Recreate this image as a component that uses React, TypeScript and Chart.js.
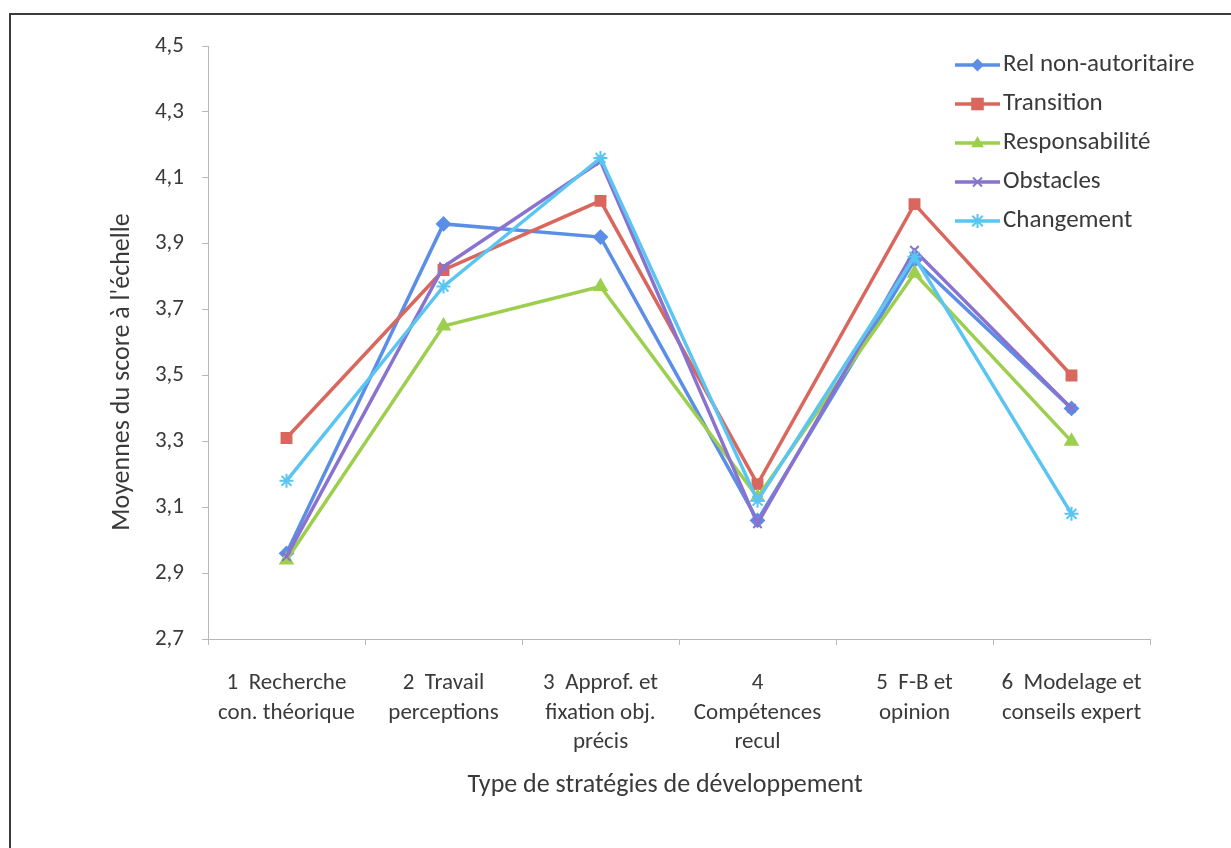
import React, { useEffect, useRef } from 'react';
import { Chart, registerables } from 'chart.js';

Chart.register(...registerables);

const categories: string[][] = [
  ['1  Recherche', 'con. théorique'],
  ['2  Travail', 'perceptions'],
  ['3  Approf. et', 'fixation obj.', 'précis'],
  ['4', 'Compétences', 'recul'],
  ['5  F-B et', 'opinion'],
  ['6  Modelage et', 'conseils expert'],
];

const seriesNames = ['Rel non-autoritaire', 'Transition', 'Responsabilité', 'Obstacles', 'Changement'];

const relNonAutoritaire = [2.96, 3.96, 3.92, 3.06, 3.85, 3.40];
const transition = [3.31, 3.82, 4.03, 3.17, 4.02, 3.50];
const responsabilite = [2.94, 3.65, 3.77, 3.13, 3.81, 3.30];
const obstacles = [2.95, 3.83, 4.15, 3.05, 3.88, 3.40];
const changement = [3.18, 3.77, 4.16, 3.12, 3.86, 3.08];

const seriesColors = ['#5B8EE6', '#D9675E', '#9DCF4E', '#8A72CF', '#5BC5F2'];
const seriesMarkers = ['rectRot', 'rect', 'triangle', 'crossRot', 'star'];
const markerRadius = [6.5, 7, 7, 6, 7];

const yTicks = [2.7, 2.9, 3.1, 3.3, 3.5, 3.7, 3.9, 4.1, 4.3, 4.5];

const yTitle = "Moyennes du score à l'échelle";
const xTitle = 'Type de stratégies de développement';

const FONT = 'Carlito, Calibri, Lato, sans-serif';
const TEXT = '#3a3a3a';

function drawMarker(ctx: CanvasRenderingContext2D, style: string, r: number, x: number, y: number, color: string) {
  ctx.save();
  ctx.fillStyle = color;
  ctx.strokeStyle = color;
  ctx.lineWidth = 2;
  ctx.beginPath();
  if (style === 'rectRot') {
    ctx.moveTo(x, y - r);
    ctx.lineTo(x + r, y);
    ctx.lineTo(x, y + r);
    ctx.lineTo(x - r, y);
    ctx.closePath();
    ctx.fill();
  } else if (style === 'rect') {
    const s = r * 0.9;
    ctx.rect(x - s, y - s, 2 * s, 2 * s);
    ctx.fill();
  } else if (style === 'triangle') {
    ctx.moveTo(x, y - r);
    ctx.lineTo(x + r * 0.9, y + r * 0.6);
    ctx.lineTo(x - r * 0.9, y + r * 0.6);
    ctx.closePath();
    ctx.fill();
  } else if (style === 'crossRot') {
    const d = r * 0.75;
    ctx.moveTo(x - d, y - d);
    ctx.lineTo(x + d, y + d);
    ctx.moveTo(x + d, y - d);
    ctx.lineTo(x - d, y + d);
    ctx.stroke();
  } else {
    const d = r * 0.75;
    ctx.moveTo(x - d, y - d);
    ctx.lineTo(x + d, y + d);
    ctx.moveTo(x + d, y - d);
    ctx.lineTo(x - d, y + d);
    ctx.moveTo(x, y - r);
    ctx.lineTo(x, y + r);
    ctx.stroke();
  }
  ctx.restore();
}

const overlayPlugin = {
  id: 'overlay',
  afterDraw(chart: any) {
    const ctx = chart.ctx as CanvasRenderingContext2D;
    // y title
    ctx.save();
    ctx.fillStyle = TEXT;
    ctx.font = `26px ${FONT}`;
    ctx.textAlign = 'center';
    ctx.textBaseline = 'middle';
    ctx.translate(122, 372);
    ctx.rotate(-Math.PI / 2);
    ctx.fillText(yTitle, 0, 0);
    ctx.restore();

    // x title
    ctx.save();
    ctx.fillStyle = TEXT;
    ctx.font = `26px ${FONT}`;
    ctx.textAlign = 'center';
    ctx.textBaseline = 'middle';
    ctx.fillText(xTitle, 665, 785);
    ctx.restore();

    // legend
    ctx.save();
    const x0 = 955;
    const x1 = 1000;
    const startY = 65;
    const gap = 39;
    chart.data.datasets.forEach((ds: any, i: number) => {
      const y = startY + i * gap;
      ctx.strokeStyle = ds.borderColor;
      ctx.lineWidth = 3.5;
      ctx.beginPath();
      ctx.moveTo(x0, y);
      ctx.lineTo(x1, y);
      ctx.stroke();
      drawMarker(ctx, ds.pointStyle, ds.pointRadius, (x0 + x1) / 2, y, ds.borderColor);
      ctx.fillStyle = TEXT;
      ctx.font = `25px ${FONT}`;
      ctx.textAlign = 'left';
      ctx.textBaseline = 'middle';
      ctx.fillText(ds.label, x1 + 3, y);
    });
    ctx.restore();
  },
};

export default function App() {
  const canvasRef = useRef<HTMLCanvasElement | null>(null);

  useEffect(() => {
    if (!canvasRef.current) return;
    const allSeries = [relNonAutoritaire, transition, responsabilite, obstacles, changement];
    const chart = new Chart(canvasRef.current, {
      type: 'line',
      data: {
        labels: categories,
        datasets: allSeries.map((values, i) => ({
          label: seriesNames[i],
          data: values,
          borderColor: seriesColors[i],
          backgroundColor: seriesColors[i],
          pointBackgroundColor: seriesColors[i],
          pointBorderColor: seriesColors[i],
          pointStyle: seriesMarkers[i] as any,
          pointRadius: markerRadius[i],
          pointBorderWidth: 2,
          borderWidth: 3.5,
          tension: 0,
          fill: false,
          order: 4 - i,
        })),
      },
      options: {
        responsive: false,
        animation: false,
        layout: { padding: { top: 46, right: 81, left: 0, bottom: 0 } },
        plugins: {
          legend: { display: false },
          tooltip: { enabled: false },
        },
        scales: {
          x: {
            type: 'category',
            offset: true,
            afterFit: (scale: any) => {
              scale.height = 848 - 639;
            },
            grid: {
              offset: true,
              drawOnChartArea: false,
              drawTicks: true,
              tickLength: 6,
              color: '#b8b8b8',
            },
            border: { color: '#b8b8b8', width: 1 },
            ticks: {
              color: TEXT,
              font: { family: FONT, size: 23, lineHeight: 1.28 },
              padding: 24,
              maxRotation: 0,
              autoSkip: false,
            },
            title: { display: false },
          },
          y: {
            min: 2.7,
            max: 4.5,
            afterFit: (scale: any) => {
              scale.width = 208;
            },
            afterBuildTicks: (scale: any) => {
              scale.ticks = yTicks.map((v) => ({ value: v }));
            },
            grid: {
              drawOnChartArea: false,
              drawTicks: true,
              tickLength: 6,
              color: '#b8b8b8',
            },
            border: { color: '#b8b8b8', width: 1 },
            ticks: {
              color: TEXT,
              font: { family: FONT, size: 23 },
              padding: 18,
              callback: (v: any) => Number(v).toFixed(1).replace('.', ','),
            },
          },
        },
      },
      plugins: [overlayPlugin],
    });
    return () => chart.destroy();
  }, []);

  return (
    <div style={{ position: 'fixed', left: 0, top: 0, width: 1231, height: 848, overflow: 'hidden', background: '#fff' }}>
      <div
        style={{
          position: 'absolute',
          left: 9,
          top: 13,
          width: 1300,
          height: 900,
          border: '2px solid #3c3c3c',
          boxSizing: 'border-box',
        }}
      />
      <canvas ref={canvasRef} width={1231} height={848} style={{ position: 'absolute', left: 0, top: 0 }} />
    </div>
  );
}
